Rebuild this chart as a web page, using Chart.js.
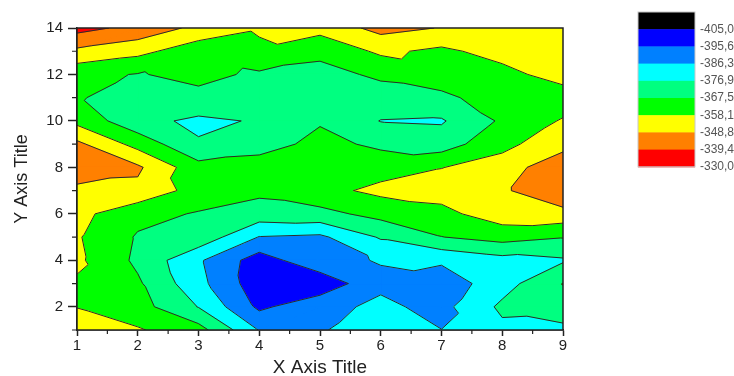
<!DOCTYPE html>
<html>
<head>
<meta charset="utf-8">
<script src="https://cdn.jsdelivr.net/npm/chart.js@4.4.1/dist/chart.umd.min.js"></script>
<style>
    html, body { margin: 0; padding: 0; background: #fff; }
    #wrap { width: 734px; height: 376px; }
</style>
</head>
<body>
<div id="wrap"><canvas id="myChart" width="734" height="376"></canvas></div>
<script>
// Grid of the contour data: x = 1..9, y = 1..14
const xValues = [1, 2, 3, 4, 5, 6, 7, 8, 9];
const yValues = [1, 2, 3, 4, 5, 6, 7, 8, 9, 10, 11, 12, 13, 14];

// one row per y value (bottom row first), one column per x value
const zValues = [
    [-354.4, -357.2, -363.8, -386.7, -387.2, -380.6, -386.2, -379.1, -379.7], // y=1
    [-358.3, -363.8, -377.3, -397.5, -389.1, -384.4, -389.1, -375.0, -370.3], // y=2
    [-359.3, -366.1, -383.4, -401.3, -402.2, -388.1, -391.9, -380.8, -367.3], // y=3
    [-356.3, -369.4, -385.0, -400.3, -388.5, -385.8, -384.8, -380.2, -378.0], // y=4
    [-357.2, -368.4, -370.5, -386.7, -388.1, -375.9, -367.7, -363.8, -367.0], // y=5
    [-355.3, -364.7, -368.2, -371.6, -370.3, -364.5, -360.7, -353.0, -352.2], // y=6
    [-350.6, -351.0, -362.0, -365.5, -360.9, -355.8, -354.4, -350.3, -340.3], // y=7
    [-344.1, -347.3, -364.2, -362.8, -361.9, -361.9, -358.3, -354.7, -340.3], // y=8
    [-346.7, -361.4, -376.0, -371.6, -364.7, -369.4, -372.3, -360.2, -353.1], // y=9
    [-360.7, -374.1, -378.8, -376.1, -368.4, -377.2, -377.8, -366.1, -357.2], // y=10
    [-366.6, -372.2, -369.8, -372.2, -372.2, -371.3, -370.0, -361.9, -363.5], // y=11
    [-364.7, -368.0, -365.2, -368.9, -370.3, -366.0, -361.6, -361.3, -353.7], // y=12
    [-350.8, -355.3, -363.8, -359.5, -365.4, -356.3, -360.1, -354.4, -352.5], // y=13
    [-336.2, -342.3, -351.3, -357.2, -354.8, -345.9, -349.2, -351.6, -349.7]  // y=14
];

// contour levels and the colour of the band below each level
const levels = [-405.0, -395.6, -386.3, -376.9, -367.5, -358.1, -348.8, -339.4, -330.0];
const bandColors = ['#000000', '#0000ff', '#0080ff', '#00ffff', '#00ff80', '#00ff00', '#ffff00', '#ff8000', '#ff0000'];

const xTicks = [1, 2, 3, 4, 5, 6, 7, 8, 9];
const xMinorTicks = [1.5, 2.5, 3.5, 4.5, 5.5, 6.5, 7.5, 8.5];
const yTicks = [2, 4, 6, 8, 10, 12, 14];
const yMinorTicks = [1, 3, 5, 7, 9, 11, 13];

// split every grid cell into two triangles, along the flatter diagonal
function buildTriangles() {
    const tris = [];
    for (let j = 0; j < yValues.length - 1; j++) {
        for (let i = 0; i < xValues.length - 1; i++) {
            const p00 = { x: xValues[i], y: yValues[j], z: zValues[j][i] };
            const p10 = { x: xValues[i + 1], y: yValues[j], z: zValues[j][i + 1] };
            const p01 = { x: xValues[i], y: yValues[j + 1], z: zValues[j + 1][i] };
            const p11 = { x: xValues[i + 1], y: yValues[j + 1], z: zValues[j + 1][i + 1] };
            if (Math.abs(p00.z - p11.z) <= Math.abs(p10.z - p01.z)) {
                tris.push([p00, p10, p11]);
                tris.push([p00, p11, p01]);
            } else {
                tris.push([p00, p10, p01]);
                tris.push([p10, p11, p01]);
            }
        }
    }
    return tris;
}
const triangles = buildTriangles();

function clip(poly, t, keepAbove) {
    const out = [];
    for (let i = 0; i < poly.length; i++) {
        const a = poly[i], b = poly[(i + 1) % poly.length];
        const ina = keepAbove ? a.z >= t : a.z <= t;
        const inb = keepAbove ? b.z >= t : b.z <= t;
        if (ina) out.push(a);
        if (ina !== inb) {
            const f = (t - a.z) / (b.z - a.z);
            out.push({ x: a.x + f * (b.x - a.x), y: a.y + f * (b.y - a.y), z: t });
        }
    }
    return out;
}

const contourPlugin = {
    id: 'contour',
    beforeDatasetsDraw(chart) {
        const { ctx, chartArea: area, scales: { x, y } } = chart;
        ctx.save();
        ctx.beginPath();
        ctx.rect(area.left, area.top, area.right - area.left, area.bottom - area.top);
        ctx.clip();

        // filled bands
        bandColors.forEach((color, k) => {
            const lo = k === 0 ? -Infinity : levels[k - 1];
            const hi = levels[k];
            ctx.beginPath();
            let any = false;
            triangles.forEach(tri => {
                let poly = tri;
                if (lo > -Infinity) poly = clip(poly, lo, true);
                if (poly.length) poly = clip(poly, hi, false);
                if (poly.length < 3) return;
                poly.forEach((p, n) => {
                    const px = x.getPixelForValue(p.x), py = y.getPixelForValue(p.y);
                    if (n === 0) ctx.moveTo(px, py); else ctx.lineTo(px, py);
                });
                ctx.closePath();
                any = true;
            });
            if (any) {
                ctx.fillStyle = color;
                ctx.fill();
                ctx.strokeStyle = color;
                ctx.lineWidth = 0.8;
                ctx.stroke();
            }
        });

        // contour lines
        ctx.beginPath();
        levels.forEach(t => {
            triangles.forEach(tri => {
                const pts = [];
                for (let n = 0; n < 3; n++) {
                    const a = tri[n], b = tri[(n + 1) % 3];
                    if ((a.z < t) !== (b.z < t)) {
                        const f = (t - a.z) / (b.z - a.z);
                        pts.push([a.x + f * (b.x - a.x), a.y + f * (b.y - a.y)]);
                    }
                }
                if (pts.length === 2) {
                    ctx.moveTo(x.getPixelForValue(pts[0][0]), y.getPixelForValue(pts[0][1]));
                    ctx.lineTo(x.getPixelForValue(pts[1][0]), y.getPixelForValue(pts[1][1]));
                }
            });
        });
        ctx.strokeStyle = '#2b2b2b';
        ctx.lineWidth = 1;
        ctx.stroke();
        ctx.restore();
    },
    afterDraw(chart) {
        const { ctx, chartArea: area, scales: { x, y } } = chart;
        ctx.save();
        // frame
        ctx.strokeStyle = '#222';
        ctx.lineWidth = 1.5;
        ctx.strokeRect(area.left, area.top, area.right - area.left, area.bottom - area.top);

        // minor ticks
        ctx.lineWidth = 1.2;
        ctx.beginPath();
        xMinorTicks.forEach(v => {
            const px = x.getPixelForValue(v);
            ctx.moveTo(px, area.bottom);
            ctx.lineTo(px, area.bottom + 4);
        });
        yMinorTicks.forEach(v => {
            const py = y.getPixelForValue(v);
            ctx.moveTo(area.left - 5, py);
            ctx.lineTo(area.left, py);
        });
        ctx.stroke();

        // colour scale
        const left = area.right + 75, top = 12, w = 57, h = 17.2;
        bandColors.forEach((color, i) => {
            ctx.fillStyle = color;
            ctx.fillRect(left, top + i * h, w, h + 0.5);
        });
        ctx.strokeStyle = '#c8c8c8';
        ctx.lineWidth = 1;
        ctx.strokeRect(left, top, w, h * bandColors.length);
        ctx.fillStyle = '#555';
        ctx.font = '12px "Liberation Sans", Arial, sans-serif';
        ctx.textBaseline = 'middle';
        ctx.textAlign = 'left';
        levels.forEach((v, i) => {
            ctx.fillText(v.toFixed(1).replace('.', ','), left + 62, top + (i + 1) * h);
        });
        ctx.restore();
    }
};

Chart.defaults.font.family = '"Liberation Sans", Arial, sans-serif';

const ctx = document.getElementById('myChart').getContext('2d');
const myChart = new Chart(ctx, {
    type: 'scatter',
    data: {
        datasets: [{
            data: [],
            pointRadius: 0
        }]
    },
    options: {
        responsive: false,
        animation: false,
        layout: { padding: { top: 28, right: 171, left: 0, bottom: 0 } },
        plugins: {
            legend: { display: false },
            tooltip: { enabled: false }
        },
        scales: {
            x: {
                type: 'linear',
                min: 1,
                max: 9,
                afterBuildTicks: s => { s.ticks = xTicks.map(v => ({ value: v })); },
                afterFit: s => { s.height = 46; },
                grid: { drawOnChartArea: false, tickLength: 6, tickColor: '#222', tickWidth: 1.5 },
                border: { color: '#222', width: 1.5 },
                ticks: { color: '#222', font: { size: 15 }, padding: 1, maxRotation: 0 },
                title: { display: true, text: 'X Axis Title', color: '#222', font: { size: 19, lineHeight: 1 }, padding: { top: 0, bottom: -1 } }
            },
            y: {
                type: 'linear',
                min: 1,
                max: 14,
                afterBuildTicks: s => { s.ticks = yTicks.map(v => ({ value: v })); },
                afterFit: s => { s.width = 77; },
                grid: { drawOnChartArea: false, tickLength: 9, tickColor: '#222', tickWidth: 1.5 },
                border: { color: '#222', width: 1.5 },
                ticks: { color: '#222', font: { size: 15 }, padding: 5 },
                title: { display: true, text: 'Y Axis Title', color: '#222', font: { size: 18, lineHeight: 1 }, padding: { top: 13, bottom: 0 } }
            }
        }
    },
    plugins: [contourPlugin]
});
</script>
</body>
</html>
